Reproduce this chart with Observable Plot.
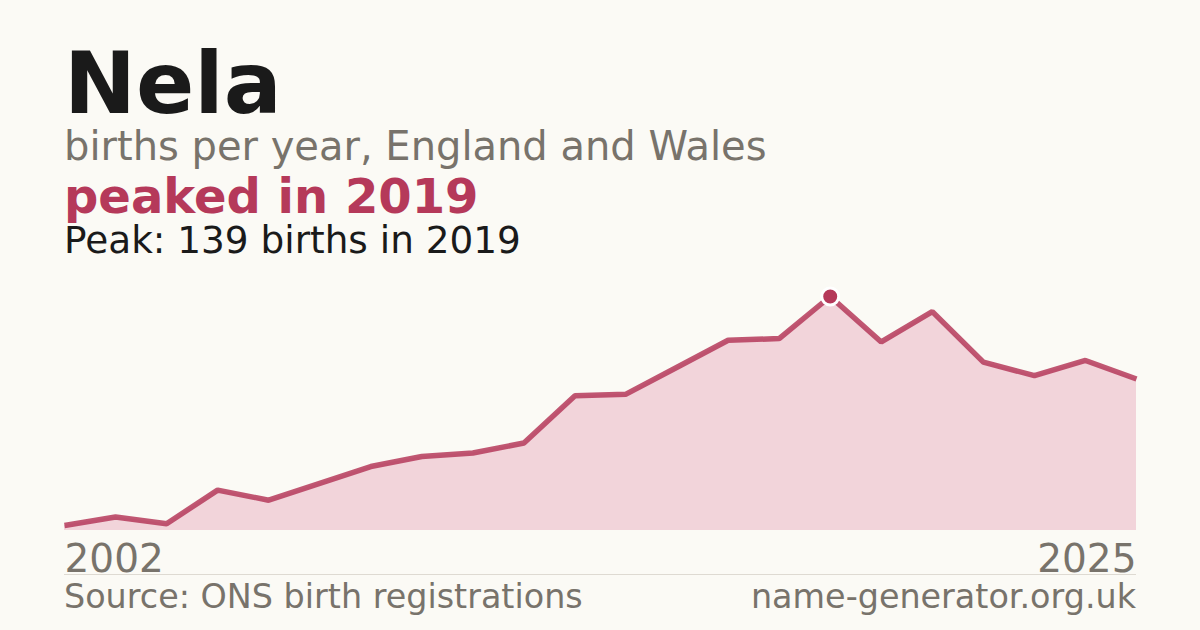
<!DOCTYPE html>
<html>
<head>
<meta charset="utf-8">
<script src="https://cdn.jsdelivr.net/npm/d3@7"></script>
<script src="https://cdn.jsdelivr.net/npm/@observablehq/plot@0.6"></script>
<style>
  html, body { margin: 0; padding: 0; background: #fbfaf5; }
  #page { position: relative; width: 1200px; height: 630px; overflow: hidden; background: #fbfaf5; font-family: "DejaVu Sans", sans-serif; }
  .t { position: absolute; left: 64px; line-height: 0.8; white-space: nowrap; }
  #chart { position: absolute; left: 0; top: 0; }
  #rule { position: absolute; left: 64px; width: 1072px; top: 574px; height: 1px; background: #dedad2; }
</style>
</head>
<body>
<div id="page">
  <div id="chart"></div>
  <div class="t" style="top:48.8px;font-size:86px;font-weight:bold;color:#1a1a1a;">Nela</div>
  <div class="t" style="top:130.2px;font-size:40px;color:#78736b;">births per year, England and Wales</div>
  <div class="t" style="top:177.2px;font-size:48px;font-weight:bold;color:#b5395a;">peaked in 2019</div>
  <div class="t" style="top:226.1px;font-size:37.4px;color:#1a1a1a;">Peak: 139 births in 2019</div>
  <div id="rule"></div>
  <div class="t" style="top:584.1px;font-size:33.4px;color:#78736b;">Source: ONS birth registrations</div>
  <div class="t" style="top:584.1px;left:auto;right:64px;font-size:33.4px;color:#78736b;">name-generator.org.uk</div>
</div>
<script>
const years = [2002, 2004, 2006, 2007, 2008, 2009, 2010, 2011, 2012, 2013, 2014, 2015, 2016, 2017, 2018, 2019, 2020, 2021, 2022, 2023, 2024, 2025];
const births = [3, 8, 4, 24, 18, 28, 38, 44, 46, 52, 80, 81, 97, 113, 114, 139, 112, 130, 100, 92, 101, 90];
const tickLabels = ["2002", "2025"];

const data = years.map((y, i) => ({i, year: y, v: births[i]}));
const peakIdx = births.indexOf(d3.max(births));
const peak = [data[peakIdx]];
const last = data.length - 1;

const chart = Plot.plot({
  width: 1200,
  height: 630,
  marginLeft: 64,
  marginRight: 64,
  marginTop: 296,
  marginBottom: 100,
  x: {type: "linear", domain: [0, last], axis: null},
  y: {domain: [0, d3.max(births)], axis: null},
  style: {background: "transparent", overflow: "visible", fontFamily: "DejaVu Sans, sans-serif"},
  marks: [
    Plot.areaY(data, {x: "i", y: "v", fill: "#f2d4da"}),
    Plot.lineY(data, {x: "i", y: "v", stroke: "#b5395a", strokeWidth: 5.5, strokeOpacity: 0.85, strokeLinecap: "butt", strokeLinejoin: "miter"}),
    Plot.dot(peak, {x: "i", y: "v", r: 8.5, fill: "#b5395a", stroke: "#ffffff", strokeWidth: 3}),
    Plot.text([{i: 0, label: tickLabels[0]}], {x: "i", frameAnchor: "bottom", text: "label", textAnchor: "start", lineAnchor: "top", dy: 14, fontSize: 39, fill: "#78736b"}),
    Plot.text([{i: last, label: tickLabels[1]}], {x: "i", frameAnchor: "bottom", text: "label", textAnchor: "end", lineAnchor: "top", dy: 14, fontSize: 39, fill: "#78736b"})
  ]
});
document.getElementById("chart").appendChild(chart);
</script>
</body>
</html>
